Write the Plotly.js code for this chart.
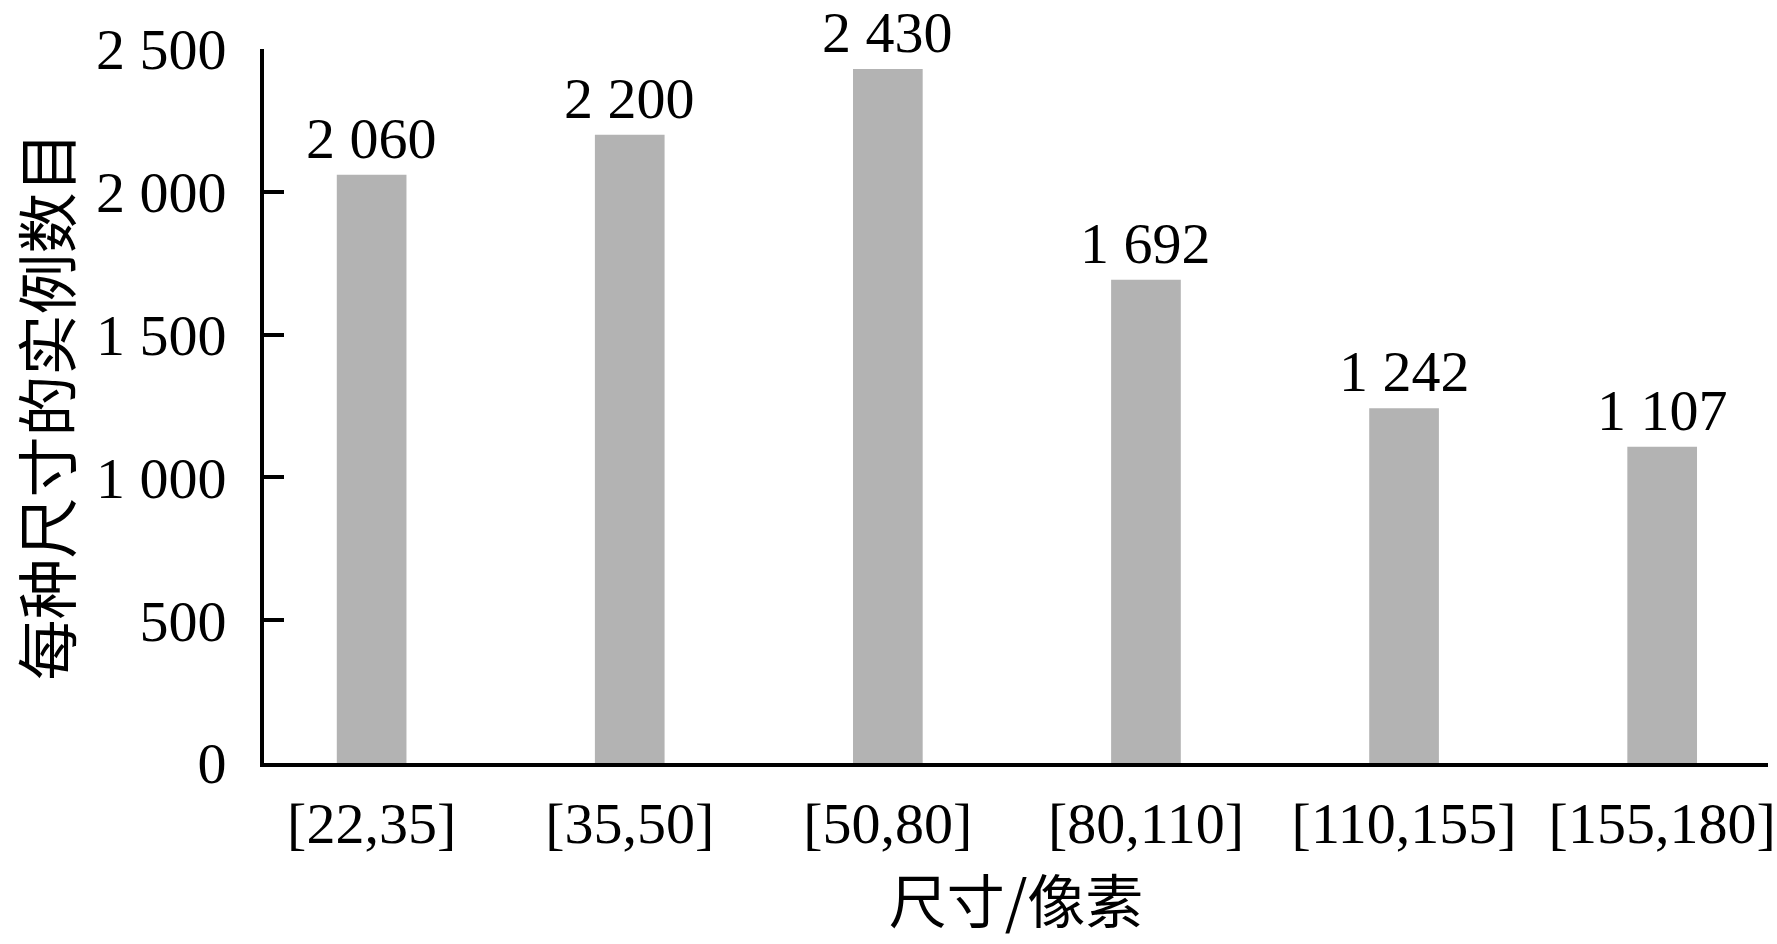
<!DOCTYPE html>
<html>
<head>
<meta charset="utf-8">
<script src="https://cdn.plot.ly/plotly-3.0.1.min.js"></script>
<style>html,body{margin:0;padding:0;background:#fff;}#chart{width:1777px;height:944px;}</style>
</head>
<body>
<div id="chart"></div>
<script>
const categories = ["[22,35]", "[35,50]", "[50,80]", "[80,110]", "[110,155]", "[155,180]"];
const counts = [2060, 2200, 2430, 1692, 1242, 1107];
const yTickValues = [0, 500, 1000, 1500, 2000, 2500];
const yTickLabels = ["0", "500", "1 000", "1 500", "2 000", "2 500"];
const xTitle = "尺寸/像素";
const yTitle = "每种尺寸的实例数目";

function fmt(v) { return String(v).replace(/\B(?=(\d{3})+(?!\d))/g, " "); }

const serif = "Liberation Serif, Times New Roman, Noto Sans CJK SC, serif";
const cjk = "Noto Sans CJK SC, sans-serif";

const trace = {
  type: "bar",
  x: categories,
  y: counts,
  marker: {color: "#b3b3b3", line: {width: 0}},
  hoverinfo: "none"
};

const labels = categories.map((c, i) => ({
  x: c,
  y: counts[i],
  xref: "x",
  yref: "y",
  text: fmt(counts[i]),
  showarrow: false,
  yanchor: "bottom",
  yshift: 2,
  font: {family: serif, size: 58, color: "#000"}
}));

const layout = {
  width: 1777,
  height: 944,
  margin: {l: 264, r: 9, t: 49, b: 181},
  paper_bgcolor: "#fff",
  plot_bgcolor: "#fff",
  showlegend: false,
  bargap: 0.73,
  font: {family: serif, color: "#000"},
  annotations: labels,
  xaxis: {
    type: "category",
    range: [-0.417, 5.41],
    showline: true,
    linecolor: "#000",
    linewidth: 4,
    ticks: "",
    showgrid: false,
    zeroline: false,
    tickfont: {family: serif, size: 58, color: "#000"},
    ticklabelstandoff: 6,
    title: {text: xTitle, font: {family: cjk, size: 58, color: "#000"}, standoff: 22}
  },
  yaxis: {
    range: [0, 2500],
    showline: true,
    linecolor: "#000",
    linewidth: 4,
    ticks: "inside",
    ticklen: 20,
    tickwidth: 4,
    tickcolor: "#000",
    tickvals: yTickValues,
    ticktext: yTickLabels,
    showgrid: false,
    zeroline: false,
    tickfont: {family: serif, size: 58, color: "#000"},
    ticklabelstandoff: 22,
    title: {text: yTitle, font: {family: cjk, size: 61, color: "#000"}, standoff: 12}
  }
};

Plotly.newPlot("chart", [trace], layout, {staticPlot: true, displayModeBar: false});
</script>
</body>
</html>
